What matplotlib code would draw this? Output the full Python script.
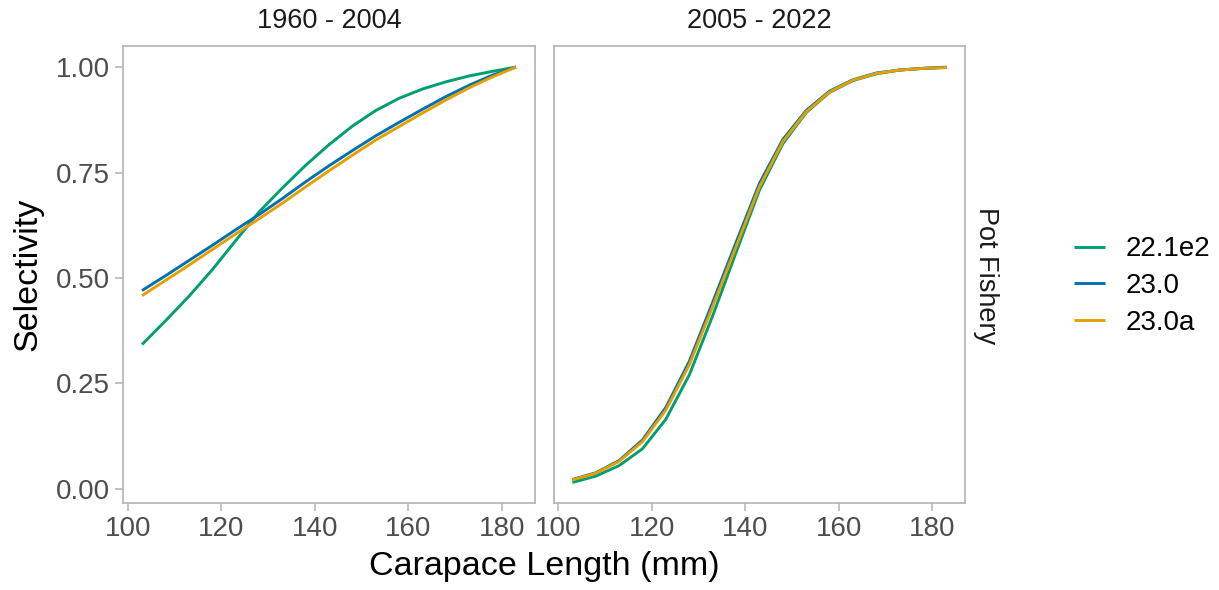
import matplotlib.pyplot as plt

plt.rcParams['font.family'] = ['Liberation Sans', 'DejaVu Sans']

lengths = [103, 108, 113, 118, 123, 128, 133, 138, 143, 148, 153, 158, 163, 168, 173, 178, 183]
periods = ['1960 - 2004', '2005 - 2022']
models = ['22.1e2', '23.0', '23.0a']
colors = {'22.1e2': '#009E73', '23.0': '#0072B2', '23.0a': '#E69F00'}

# selectivity by period and model
early_221e2 = [0.342, 0.398, 0.456, 0.519, 0.588, 0.656, 0.713, 0.767, 0.816, 0.860,
               0.897, 0.926, 0.948, 0.965, 0.979, 0.990, 1.000]
early_230 = [0.470, 0.505, 0.541, 0.577, 0.614, 0.650, 0.688, 0.728, 0.766, 0.802,
             0.837, 0.869, 0.900, 0.930, 0.957, 0.981, 1.000]
early_230a = [0.458, 0.494, 0.530, 0.567, 0.604, 0.640, 0.677, 0.716, 0.754, 0.791,
              0.827, 0.859, 0.891, 0.922, 0.951, 0.977, 1.000]
late_221e2 = [0.015, 0.030, 0.055, 0.095, 0.165, 0.270, 0.410, 0.560, 0.708, 0.818,
              0.892, 0.940, 0.968, 0.984, 0.993, 0.997, 1.000]
late_230 = [0.022, 0.038, 0.067, 0.116, 0.193, 0.302, 0.442, 0.584, 0.724, 0.828,
            0.897, 0.943, 0.970, 0.986, 0.993, 0.997, 0.999]
late_230a = [0.021, 0.037, 0.065, 0.112, 0.187, 0.294, 0.432, 0.574, 0.716, 0.823,
             0.894, 0.941, 0.969, 0.985, 0.993, 0.997, 0.999]

series = [
    {'22.1e2': early_221e2, '23.0': early_230, '23.0a': early_230a},
    {'22.1e2': late_221e2, '23.0': late_230, '23.0a': late_230a},
]

W, H = 1219, 590
fig = plt.figure(figsize=(W / 100, H / 100), dpi=100)

border = '#B3B3B3'
tick_col = '#4D4D4D'
panels = [123.3, 553.7]
pw, top, bottom = 411.4, 46, 502.7

axes = []
for i, left in enumerate(panels):
    ax = fig.add_axes([left / W, (H - bottom) / H, pw / W, (bottom - top) / H])
    for m in models:
        ax.plot(lengths, series[i][m], color=colors[m], lw=2.1, label=m,
                solid_capstyle='butt')
    ax.set_xlim(99, 187)
    ax.set_ylim(-0.033, 1.05)
    ax.set_xticks([100, 120, 140, 160, 180])
    ax.set_yticks([0, 0.25, 0.5, 0.75, 1.0])
    ax.set_yticklabels(['0.00', '0.25', '0.50', '0.75', '1.00'])
    for s in ax.spines.values():
        s.set_color(border)
        s.set_linewidth(1.2)
    ax.tick_params(colors=border, labelcolor=tick_col, labelsize=20,
                   length=5.5, width=1.1, pad=4)
    if i == 1:
        ax.tick_params(axis='y', left=False, labelleft=False)
    fig.text((left + pw / 2) / W, 1 - 21.5 / H, periods[i], fontsize=19.5,
             ha='center', va='center', color='#1A1A1A')
    axes.append(ax)

fig.text(28 / W, 1 - 274 / H, 'Selectivity', fontsize=24.5, rotation=90,
         ha='center', va='center')
fig.text(544 / W, 1 - 567 / H, 'Carapace Length (mm)', fontsize=24.5,
         ha='center', va='center')
fig.text(986 / W, 1 - 276 / H, 'Pot Fishery', fontsize=19.5, rotation=270,
         ha='center', va='center', color='#1A1A1A')

handles, labels = axes[0].get_legend_handles_labels()
fig.legend(handles, labels, loc='center left', bbox_to_anchor=(1074 / W, 1 - 286 / H),
           frameon=False, fontsize=20, handlelength=1.1, labelspacing=0.38,
           handletextpad=0.75, borderpad=0, borderaxespad=0)

fig.savefig('out.png', dpi=100)
